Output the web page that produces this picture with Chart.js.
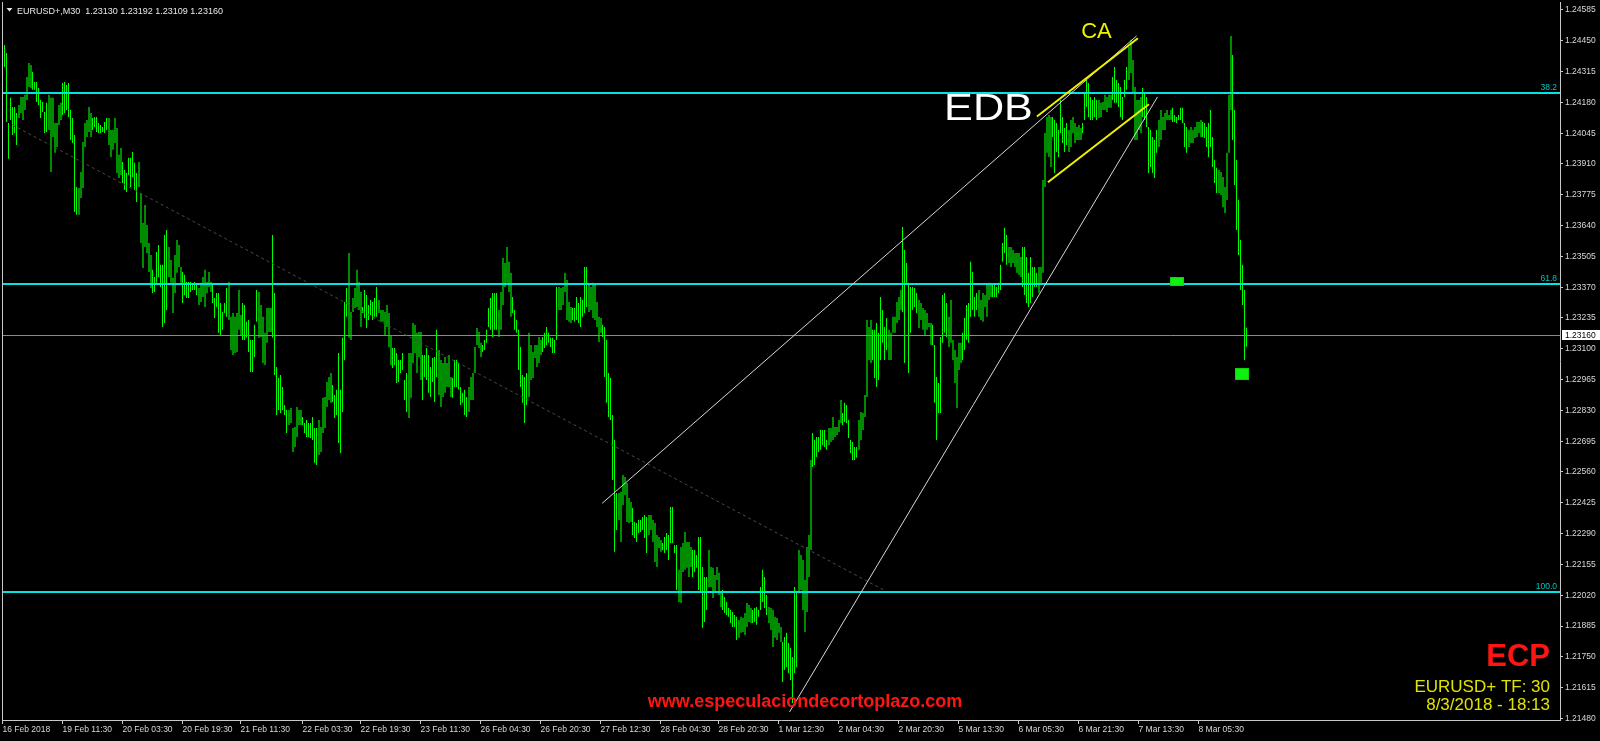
<!DOCTYPE html>
<html>
<head>
<meta charset="utf-8">
<title>EURUSD+ M30</title>
<script src="https://cdn.jsdelivr.net/npm/chart.js@4.4.1/dist/chart.umd.min.js"></script>
<style>
  html, body { margin: 0; padding: 0; background: #000; overflow: hidden; }
  canvas { display: block; }
</style>
</head>
<body>
<canvas id="chart" width="1600" height="741"></canvas>
<script>
// ---- EURUSD+ M30 bars: high / low per bar, oldest first ----
const highs = [
1.24463,1.24432,1.24397,1.24090,1.24200,1.24160,1.24160,1.24134,1.24169,1.24204,1.24204,1.24213,1.24291,1.24353,1.24344,1.24313,
1.24269,1.24269,1.24243,1.24191,1.24182,1.24138,1.24178,1.24213,1.24200,1.24200,1.24090,1.24090,1.24169,1.24178,1.24265,1.24269,
1.24256,1.24265,1.24147,1.24112,1.24037,1.23809,1.23805,1.23875,1.24006,1.24090,1.24103,1.24160,1.24134,1.24112,1.24116,1.24116,
1.24090,1.24081,1.24072,1.24094,1.24112,1.24112,1.24059,1.24059,1.24112,1.24068,1.23950,1.23980,1.23919,1.23884,1.23871,1.23937,
1.23937,1.23963,1.23915,1.23871,1.23919,1.23783,1.23652,1.23730,1.23643,1.23564,1.23511,1.23446,1.23415,1.23524,1.23555,1.23468,
1.23468,1.23599,1.23621,1.23546,1.23489,1.23411,1.23511,1.23577,1.23555,1.23459,1.23437,1.23424,1.23393,1.23393,1.23393,1.23380,
1.23393,1.23380,1.23367,1.23389,1.23415,1.23446,1.23393,1.23437,1.23393,1.23380,1.23323,1.23345,1.23345,1.23301,1.23261,1.23301,
1.23367,1.23393,1.23240,1.23257,1.23240,1.23257,1.23358,1.23248,1.23301,1.23292,1.23218,1.23226,1.23139,1.23139,1.23205,1.23358,
1.23349,1.23292,1.23240,1.23170,1.23279,1.23279,1.23279,1.23599,1.23345,1.23020,1.22972,1.22985,1.22933,1.22854,1.22832,1.22832,
1.22841,1.22753,1.22757,1.22845,1.22832,1.22832,1.22801,1.22775,1.22788,1.22775,1.22775,1.22801,1.22753,1.22753,1.22788,1.22757,
1.22885,1.22889,1.22954,1.22976,1.22994,1.22941,1.22898,1.22920,1.23082,1.22920,1.23148,1.23305,1.23367,1.23520,1.23261,1.23323,
1.23367,1.23446,1.23393,1.23349,1.23283,1.23358,1.23336,1.23292,1.23314,1.23305,1.23323,1.23371,1.23314,1.23270,1.23270,1.23261,
1.23292,1.23257,1.23161,1.23104,1.23104,1.23082,1.23051,1.23051,1.23082,1.22963,1.22994,1.23082,1.23082,1.23213,1.23205,1.23170,
1.23174,1.23174,1.23073,1.23073,1.23104,1.23073,1.23020,1.23060,1.23064,1.23183,1.23095,1.23051,1.23038,1.23064,1.23038,1.23073,
1.22976,1.22972,1.23051,1.23051,1.23038,1.22933,1.22907,1.22920,1.22889,1.22933,1.22976,1.22994,1.23108,1.23191,1.23174,1.23126,
1.23117,1.23139,1.23183,1.23279,1.23323,1.23345,1.23345,1.23345,1.23270,1.23349,1.23498,1.23476,1.23546,1.23481,1.23433,1.23327,
1.23270,1.23226,1.23183,1.23108,1.22985,1.22976,1.22994,1.23170,1.23117,1.23086,1.23117,1.23117,1.23152,1.23139,1.23152,1.23170,
1.23196,1.23170,1.23148,1.23148,1.23139,1.23371,1.23371,1.23367,1.23371,1.23433,1.23402,1.23305,1.23283,1.23279,1.23279,1.23327,
1.23301,1.23327,1.23314,1.23459,1.23459,1.23380,1.23371,1.23389,1.23380,1.23305,1.23240,1.23235,1.23205,1.23196,1.23139,1.22994,
1.22972,1.22810,1.22700,1.22468,1.22468,1.22473,1.22547,1.22538,1.22512,1.22446,1.22428,1.22402,1.22341,1.22337,1.22350,1.22350,
1.22363,1.22372,1.22363,1.22372,1.22372,1.22350,1.22337,1.22284,1.22275,1.22262,1.22249,1.22275,1.22293,1.22284,1.22407,1.22407,
1.22240,1.22240,1.22131,1.22231,1.22249,1.22297,1.22253,1.22253,1.22231,1.22218,1.22218,1.22196,1.22275,1.22275,1.22144,1.22100,
1.22100,1.22218,1.22144,1.22140,1.22109,1.22144,1.22118,1.22034,1.22043,1.22012,1.21990,1.21964,1.21955,1.21946,1.21933,1.21925,
1.21911,1.21925,1.21920,1.21942,1.21986,1.21977,1.21964,1.21955,1.21964,1.21968,1.21955,1.22056,1.22131,1.22100,1.22021,1.21968,
1.21964,1.21955,1.21925,1.21920,1.21898,1.21881,1.21815,1.21837,1.21855,1.21811,1.21789,1.21749,1.22056,1.22034,1.22218,1.22196,
1.22174,1.22087,1.22231,1.22284,1.22613,1.22731,1.22700,1.22713,1.22713,1.22744,1.22744,1.22744,1.22700,1.22753,1.22753,1.22801,
1.22757,1.22757,1.22788,1.22876,1.22819,1.22863,1.22854,1.22788,1.22700,1.22692,1.22670,1.22670,1.22788,1.22823,1.22819,1.22898,
1.23226,1.23196,1.23226,1.23183,1.23183,1.23213,1.23170,1.23327,1.23270,1.23196,1.23235,1.23183,1.23170,1.23240,1.23240,1.23305,
1.23327,1.23358,1.23634,1.23533,1.23476,1.23389,1.23371,1.23371,1.23367,1.23345,1.23314,1.23301,1.23279,1.23270,1.23257,1.23213,
1.23213,1.23205,1.23117,1.22976,1.22950,1.23152,1.23336,1.23345,1.23301,1.23240,1.23314,1.23139,1.23095,1.23064,1.23126,1.23126,
1.23170,1.23235,1.23292,1.23301,1.23481,1.23437,1.23327,1.23345,1.23358,1.23314,1.23345,1.23336,1.23380,1.23389,1.23380,1.23380,
1.23380,1.23371,1.23389,1.23468,1.23564,1.23630,1.23599,1.23546,1.23546,1.23533,1.23520,1.23520,1.23520,1.23502,1.23546,1.23546,
1.23502,1.23433,1.23502,1.23459,1.23459,1.23433,1.23459,1.23459,1.23840,1.24046,1.24116,1.24125,1.24116,1.24116,1.24103,1.24090,
1.24059,1.24191,1.24116,1.24068,1.24090,1.24059,1.24103,1.24116,1.24090,1.24072,1.24081,1.24068,1.24090,1.24221,1.24278,1.24265,
1.24204,1.24191,1.24204,1.24191,1.24191,1.24178,1.24182,1.24213,1.24204,1.24213,1.24213,1.24291,1.24335,1.24278,1.24265,1.24247,
1.24204,1.24278,1.24335,1.24423,1.24454,1.24366,1.24247,1.24191,1.24191,1.24204,1.24243,1.24226,1.24204,1.24072,1.24059,1.24028,
1.24015,1.24059,1.24103,1.24147,1.24116,1.24134,1.24147,1.24125,1.24147,1.24156,1.24125,1.24116,1.24125,1.24156,1.24156,1.24090,
1.24072,1.24059,1.24072,1.24059,1.24072,1.24094,1.24094,1.24103,1.24094,1.24090,1.24072,1.24090,1.24147,1.24028,1.23928,1.23893,
1.23884,1.23875,1.23853,1.23809,1.23959,1.24213,1.24471,1.24388,1.24147,1.23928,1.23752,1.23577,1.23468,1.23358,1.23192
];
const lows = [
1.24388,1.24335,1.24094,1.23933,1.24103,1.24037,1.24046,1.23993,1.24112,1.24134,1.24103,1.24147,1.24191,1.24247,1.24243,1.24235,
1.24235,1.24182,1.24169,1.24112,1.24138,1.24046,1.24050,1.24059,1.23875,1.24028,1.23959,1.23984,1.24081,1.24103,1.24125,1.24134,
1.24147,1.24116,1.24015,1.24002,1.23700,1.23687,1.23687,1.23761,1.23805,1.23984,1.24028,1.24050,1.24028,1.24059,1.24072,1.24050,
1.24046,1.24046,1.24050,1.24046,1.24059,1.23993,1.23941,1.23972,1.24002,1.23871,1.23849,1.23862,1.23827,1.23796,1.23787,1.23862,
1.23809,1.23853,1.23796,1.23743,1.23809,1.23564,1.23454,1.23546,1.23520,1.23437,1.23367,1.23345,1.23349,1.23389,1.23415,1.23371,
1.23196,1.23213,1.23270,1.23415,1.23389,1.23257,1.23345,1.23433,1.23459,1.23389,1.23301,1.23336,1.23323,1.23323,1.23349,1.23358,
1.23358,1.23336,1.23292,1.23305,1.23327,1.23283,1.23345,1.23371,1.23349,1.23301,1.23235,1.23283,1.23170,1.23161,1.23183,1.23257,
1.23240,1.23226,1.23095,1.23073,1.23082,1.23086,1.23183,1.23161,1.23139,1.23139,1.23148,1.23086,1.22998,1.22998,1.23064,1.23218,
1.23148,1.23152,1.23038,1.23029,1.23126,1.23174,1.23174,1.23148,1.22985,1.22810,1.22832,1.22819,1.22832,1.22810,1.22731,1.22766,
1.22775,1.22648,1.22670,1.22713,1.22766,1.22766,1.22766,1.22731,1.22713,1.22713,1.22709,1.22700,1.22600,1.22591,1.22635,1.22648,
1.22731,1.22753,1.22845,1.22876,1.22863,1.22867,1.22797,1.22810,1.22687,1.22643,1.22823,1.23051,1.23240,1.23148,1.23139,1.23261,
1.23279,1.23283,1.23270,1.23196,1.23257,1.23235,1.23191,1.23226,1.23248,1.23226,1.23240,1.23240,1.23257,1.23218,1.23218,1.23161,
1.23196,1.23108,1.23029,1.23016,1.23029,1.22950,1.22954,1.22994,1.23007,1.22876,1.22823,1.22797,1.22885,1.23038,1.23082,1.22994,
1.23064,1.22963,1.22876,1.22976,1.22963,1.22907,1.22889,1.22954,1.22867,1.22976,1.22898,1.22845,1.22889,1.22907,1.22933,1.22933,
1.22889,1.22885,1.22933,1.22933,1.22920,1.22854,1.22863,1.22810,1.22801,1.22823,1.22876,1.22876,1.22994,1.23117,1.23104,1.23064,
1.23086,1.23095,1.23126,1.23196,1.23183,1.23152,1.23183,1.23183,1.23152,1.23183,1.23292,1.23371,1.23389,1.23349,1.23240,1.23257,
1.23183,1.23170,1.23007,1.22933,1.22863,1.22775,1.22854,1.22889,1.22963,1.22972,1.23060,1.23020,1.23038,1.23073,1.23086,1.23104,
1.23117,1.23126,1.23108,1.23082,1.23082,1.23139,1.23270,1.23270,1.23292,1.23349,1.23226,1.23218,1.23213,1.23226,1.23218,1.23226,
1.23213,1.23196,1.23240,1.23257,1.23283,1.23261,1.23270,1.23235,1.23226,1.23196,1.23130,1.23170,1.23152,1.22976,1.22863,1.22801,
1.22788,1.22525,1.22210,1.22306,1.22350,1.22253,1.22415,1.22459,1.22341,1.22337,1.22341,1.22284,1.22271,1.22253,1.22293,1.22297,
1.22306,1.22271,1.22205,1.22284,1.22306,1.22253,1.22166,1.22144,1.22227,1.22210,1.22218,1.22205,1.22218,1.22174,1.22249,1.22249,
1.22205,1.22043,1.21990,1.21986,1.22122,1.22131,1.22140,1.22100,1.22144,1.22100,1.22122,1.22140,1.22043,1.22030,1.21877,1.21903,
1.21955,1.22056,1.22056,1.22008,1.22034,1.22087,1.22021,1.21968,1.21955,1.21942,1.21933,1.21925,1.21898,1.21881,1.21881,1.21824,
1.21833,1.21855,1.21859,1.21846,1.21881,1.21903,1.21898,1.21898,1.21903,1.21890,1.21925,1.21955,1.21990,1.21964,1.21933,1.21898,
1.21868,1.21793,1.21833,1.21824,1.21855,1.21815,1.21640,1.21692,1.21705,1.21679,1.21648,1.21548,1.21679,1.21705,1.22030,1.22043,
1.21955,1.21859,1.21946,1.22100,1.22218,1.22582,1.22591,1.22626,1.22648,1.22657,1.22678,1.22670,1.22657,1.22678,1.22692,1.22700,
1.22713,1.22722,1.22735,1.22775,1.22766,1.22779,1.22775,1.22709,1.22643,1.22613,1.22613,1.22622,1.22657,1.22700,1.22744,1.22801,
1.22889,1.23051,1.23038,1.23051,1.22972,1.22933,1.22963,1.23051,1.23126,1.23051,1.23095,1.23051,1.23051,1.23170,1.23170,1.23213,
1.23226,1.23270,1.23261,1.23038,1.23389,1.22994,1.23170,1.23270,1.23283,1.23257,1.23191,1.23226,1.23183,1.23161,1.23183,1.23196,
1.23117,1.23117,1.22863,1.22700,1.22819,1.22819,1.23126,1.23170,1.23152,1.23108,1.23126,1.23051,1.22950,1.22841,1.23007,1.23038,
1.23051,1.23095,1.23139,1.23126,1.23240,1.23270,1.23240,1.23270,1.23240,1.23226,1.23218,1.23283,1.23240,1.23314,1.23327,1.23327,
1.23327,1.23327,1.23345,1.23358,1.23481,1.23520,1.23468,1.23476,1.23459,1.23476,1.23459,1.23433,1.23424,1.23415,1.23371,1.23336,
1.23301,1.23283,1.23301,1.23327,1.23371,1.23371,1.23345,1.23389,1.23433,1.23809,1.23959,1.23941,1.23897,1.24028,1.23871,1.23963,
1.23941,1.24046,1.24002,1.23963,1.23993,1.23963,1.23984,1.24046,1.24002,1.24015,1.24015,1.24015,1.24046,1.24103,1.24160,1.24116,
1.24103,1.24103,1.24116,1.24103,1.24112,1.24116,1.24147,1.24147,1.24138,1.24156,1.24156,1.24191,1.24178,1.24178,1.24160,1.24116,
1.24103,1.24204,1.24235,1.24278,1.24309,1.24221,1.24015,1.24015,1.24059,1.24046,1.24116,1.24103,1.24072,1.23871,1.23897,1.23871,
1.23849,1.23959,1.23984,1.24015,1.24059,1.24059,1.24103,1.24103,1.24103,1.24094,1.24094,1.24090,1.24103,1.24103,1.24090,1.23984,
1.23959,1.23984,1.24002,1.24002,1.24024,1.24028,1.24046,1.24028,1.24028,1.24024,1.23984,1.23941,1.23984,1.23897,1.23827,1.23783,
1.23783,1.23774,1.23722,1.23695,1.23752,1.23959,1.24147,1.24015,1.23818,1.23621,1.23511,1.23358,1.23292,1.23051,1.23109
];

// last bar quote shown in the header (open, high, low, close)
const lastQuote = [1.23130, 1.23192, 1.23109, 1.23160];

// time axis: label text and the bar it belongs to
const timeLabels = ['16 Feb 2018','19 Feb 11:30','20 Feb 03:30','20 Feb 19:30','21 Feb 11:30','22 Feb 03:30','22 Feb 19:30',
  '23 Feb 11:30','26 Feb 04:30','26 Feb 20:30','27 Feb 12:30','28 Feb 04:30','28 Feb 20:30','1 Mar 12:30','2 Mar 04:30',
  '2 Mar 20:30','5 Mar 13:30','6 Mar 05:30','6 Mar 21:30','7 Mar 13:30','8 Mar 05:30'];
const timeLabelBars = [0,30,60,90,119,150,179,209,239,269,299,329,358,388,418,448,478,508,538,568,598];

// price axis
const priceTicks = [1.24585,1.24450,1.24315,1.24180,1.24045,1.23910,1.23775,1.23640,1.23505,1.23370,1.23235,1.23100,
  1.22965,1.22830,1.22695,1.22560,1.22425,1.22290,1.22155,1.22020,1.21885,1.21750,1.21615,1.21480];
const priceMin = 1.21473;
const priceMax = 1.24620;

// Fibonacci retracement levels
const fibNames = ['38.2', '61.8', '100.0'];
const fibPrices = [1.24221, 1.23386, 1.22034];

// drawn objects, each as [bar, price, bar, price]
const wedgeLines = [[299.85, 1.22423, 567.0, 1.24471], [393.5, 1.21508, 577.5, 1.24204]];
const dashedTrend = [5.0, 1.24081, 442.5, 1.22034];
const channelLines = [[517.2, 1.24118, 567.7, 1.24461], [522.7, 1.23830, 573.2, 1.24172]];

// price marks (bar, price)
const markBars = [587, 619.5];
const markPrices = [1.23393, 1.22988];

// chart notes (bar, price, text)
const notes = [[493, 1.24103, 'EDB'], [547, 1.24463, 'CA']];

const FONT = '"Liberation Sans", Arial, sans-serif';

// bars are drawn in two passes: thin bright strokes and wider dim strokes,
// alternating in runs along the time axis the way the terminal's bar texture shows
const brightBars = [];
const dimBars = [];
highs.forEach((h, i) => {
  const phase = (i * 0.0667) % 1;
  if (phase < 0.5) brightBars.push({ x: i, y: [lows[i], h] });
  else dimBars.push({ x: i + 0.25, y: [lows[i], h] });
});

const mt4Objects = {
  id: 'mt4Objects',
  afterDatasetsDraw(chart) {
    const { ctx, chartArea: a, scales: { x, y } } = chart;
    const px = v => x.getPixelForValue(v);
    const py = v => y.getPixelForValue(v);
    ctx.save();

    // left frame edge
    ctx.strokeStyle = '#c8c8c8';
    ctx.lineWidth = 1;
    ctx.beginPath();
    ctx.moveTo(a.left + 0.5, a.top);
    ctx.lineTo(a.left + 0.5, a.bottom);
    ctx.stroke();

    // current price line
    ctx.strokeStyle = '#8a8a8a';
    ctx.beginPath();
    const yl = Math.round(py(lastQuote[3])) + 0.5;
    ctx.moveTo(a.left + 1, yl);
    ctx.lineTo(a.right, yl);
    ctx.stroke();

    // dashed trend line
    ctx.strokeStyle = '#4a4a4a';
    ctx.setLineDash([3, 3]);
    ctx.beginPath();
    ctx.moveTo(px(dashedTrend[0]), py(dashedTrend[1]));
    ctx.lineTo(px(dashedTrend[2]), py(dashedTrend[3]));
    ctx.stroke();
    ctx.setLineDash([]);

    // Fibonacci levels
    ctx.font = '8.5px ' + FONT;
    ctx.textAlign = 'right';
    ctx.textBaseline = 'bottom';
    fibPrices.forEach((p, k) => {
      const yy = Math.round(py(p));
      ctx.fillStyle = '#00e4e4';
      ctx.fillRect(a.left + 1, yy - 1, a.right - a.left - 1, 2);
      ctx.fillStyle = '#00c4c4';
      ctx.fillText(fibNames[k], a.right - 3, yy - 1);
    });

    // wedge lines
    ctx.strokeStyle = '#d8d8d8';
    ctx.lineWidth = 1;
    wedgeLines.forEach(l => {
      ctx.beginPath();
      ctx.moveTo(px(l[0]), py(l[1]));
      ctx.lineTo(px(l[2]), py(l[3]));
      ctx.stroke();
    });

    // channel lines
    ctx.strokeStyle = '#f0f000';
    ctx.lineWidth = 2;
    channelLines.forEach(l => {
      ctx.beginPath();
      ctx.moveTo(px(l[0]), py(l[1]));
      ctx.lineTo(px(l[2]), py(l[3]));
      ctx.stroke();
    });

    // price marks
    const markSize = [[14, 9], [14, 12]];
    markBars.forEach((b, k) => {
      const w = markSize[k][0], h = markSize[k][1];
      const cx = px(b), cy = py(markPrices[k]);
      ctx.fillStyle = '#0bd40b';
      ctx.fillRect(Math.round(cx - w / 2), Math.round(cy - h / 2), w, h);
      ctx.fillStyle = '#10f010';
      ctx.fillRect(Math.round(cx - w / 2) + 1, Math.round(cy - h / 2) + 1, w - 2, h - 2);
    });

    // notes
    ctx.textAlign = 'center';
    ctx.textBaseline = 'alphabetic';
    ctx.fillStyle = '#ffffff';
    ctx.font = '36px ' + FONT;
    ctx.save();
    ctx.translate(px(notes[0][0]), py(notes[0][1]));
    ctx.scale(1.2, 1);
    ctx.fillText(notes[0][2], 0, 0);
    ctx.restore();
    ctx.fillStyle = '#f0f000';
    ctx.font = '22px ' + FONT;
    ctx.fillText(notes[1][2], px(notes[1][0]), py(notes[1][1]));

    ctx.restore();
  },
  afterDraw(chart) {
    const { ctx, chartArea: a, scales: { y } } = chart;
    ctx.save();

    // header: symbol, period and last quote
    ctx.fillStyle = '#e8e8e8';
    ctx.beginPath();
    ctx.moveTo(6.5, 8);
    ctx.lineTo(12.5, 8);
    ctx.lineTo(9.5, 11.5);
    ctx.closePath();
    ctx.fill();
    ctx.font = '9px ' + FONT;
    ctx.textAlign = 'left';
    ctx.textBaseline = 'alphabetic';
    ctx.fillText('EURUSD+,M30  ' + lastQuote.map(v => v.toFixed(5)).join(' '), 17, 13.5);

    // current price tag on the price axis
    const yl = Math.round(y.getPixelForValue(lastQuote[3]));
    ctx.fillStyle = '#ffffff';
    ctx.fillRect(a.right + 2, yl - 5, 38, 10);
    ctx.fillStyle = '#000000';
    ctx.font = '8.5px ' + FONT;
    ctx.textBaseline = 'middle';
    ctx.fillText(lastQuote[3].toFixed(5), a.right + 5, yl + 0.5);

    // site watermark
    ctx.textBaseline = 'alphabetic';
    ctx.textAlign = 'center';
    ctx.fillStyle = '#ff1414';
    ctx.font = 'bold 18px ' + FONT;
    ctx.fillText('www.especulaciondecortoplazo.com', 805, 707);

    // corner block
    ctx.textAlign = 'right';
    ctx.font = 'bold 31px ' + FONT;
    ctx.fillText('ECP', 1550, 666);
    ctx.fillStyle = '#e2e200';
    ctx.font = '17px ' + FONT;
    ctx.fillText('EURUSD+ TF: 30', 1550, 692);
    ctx.fillText('8/3/2018 - 18:13', 1550, 710);

    ctx.restore();
  }
};

const barStyle = { borderWidth: 0, inflateAmount: 0, grouped: false };

new Chart(document.getElementById('chart'), {
  type: 'bar',
  data: {
    datasets: [
      Object.assign({ data: dimBars, backgroundColor: '#008c00', barThickness: 2 }, barStyle),
      Object.assign({ data: brightBars, backgroundColor: '#00ff00', barThickness: 1 }, barStyle)
    ]
  },
  options: {
    responsive: false,
    animation: false,
    devicePixelRatio: 1,
    layout: { padding: { left: 2, top: 2, right: 0, bottom: 0 } },
    plugins: { legend: { display: false }, tooltip: { enabled: false } },
    scales: {
      x: {
        type: 'linear',
        min: -0.25,
        max: 778.75,
        offset: false,
        grid: { drawOnChartArea: false, drawTicks: true, tickLength: 4, color: '#c8c8c8', offset: false },
        border: { color: '#c8c8c8' },
        ticks: {
          color: '#d8d8d8',
          font: { size: 8.5, family: FONT },
          align: 'start',
          padding: 1,
          maxRotation: 0,
          autoSkip: false,
          callback: v => timeLabels[timeLabelBars.indexOf(v)]
        },
        afterBuildTicks: s => { s.ticks = timeLabelBars.map(v => ({ value: v })); },
        afterFit: s => { s.height = 21; s.paddingLeft = 0; s.paddingRight = 0; }
      },
      y: {
        position: 'right',
        min: priceMin,
        max: priceMax,
        grid: { drawOnChartArea: false, drawTicks: true, tickLength: 3, color: '#c8c8c8' },
        border: { color: '#c8c8c8' },
        ticks: {
          color: '#d8d8d8',
          font: { size: 8.5, family: FONT },
          padding: 2,
          autoSkip: false,
          callback: v => v.toFixed(5)
        },
        afterBuildTicks: s => { s.ticks = priceTicks.map(v => ({ value: v })); },
        afterFit: s => { s.width = 40; s.paddingTop = 0; s.paddingBottom = 0; }
      }
    }
  },
  plugins: [mt4Objects]
});
</script>
</body>
</html>
